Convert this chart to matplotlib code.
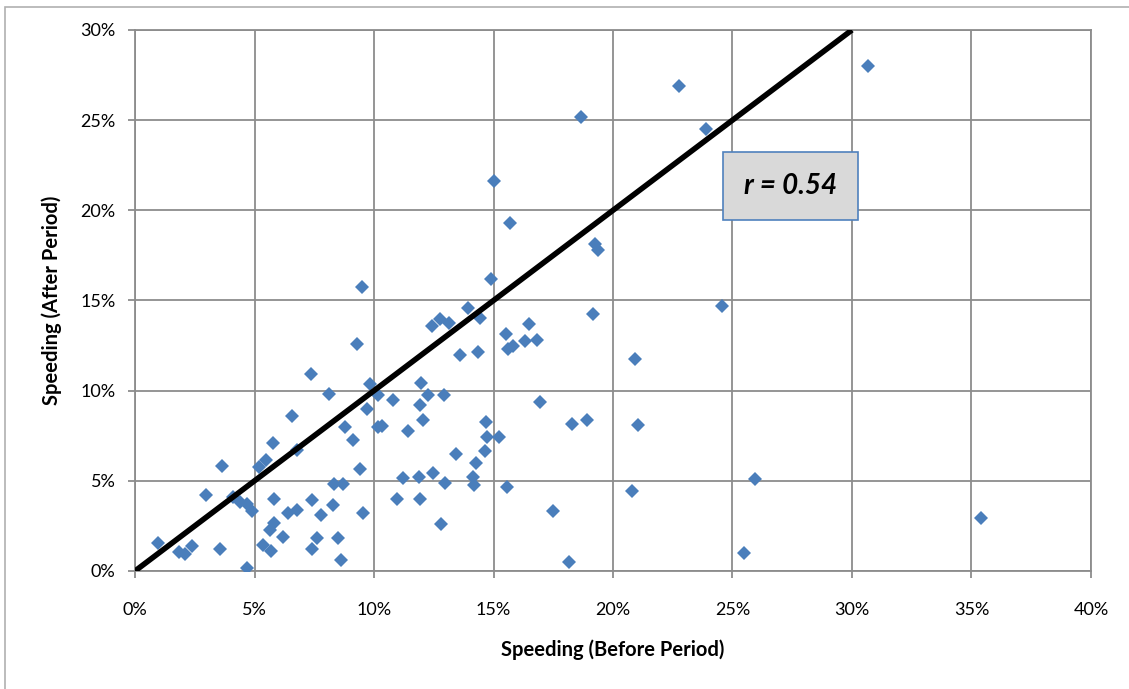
import matplotlib.pyplot as plt
from matplotlib.patches import Rectangle
from matplotlib.ticker import FuncFormatter

# speeding share before / after (percent)
before = [0.98, 1.85, 2.09, 2.4, 3.56, 4.7, 2.98, 3.65, 4.1, 4.4, 4.7, 4.9,
          5.2, 5.5, 5.79, 6.58, 6.76, 8.13, 5.82, 5.34, 5.68, 5.65, 5.82, 6.21,
          6.42, 6.76, 7.39, 7.78, 7.6, 7.42, 8.3, 8.5, 8.62, 8.33, 8.72, 9.41,
          9.53, 8.79, 9.11, 9.69, 9.83, 10.18, 11.95, 10.18, 10.81, 12.27, 12.93,
          11.92, 12.06, 10.35, 11.41, 16.95, 18.27, 18.9, 14.69, 14.74, 15.24,
          14.64, 13.43, 14.27, 11.23, 11.9, 12.45, 12.97, 14.13, 14.18, 15.58,
          10.97, 11.92, 12.79, 17.5, 18.16, 21.06, 20.78, 25.94, 25.48, 35.42,
          15.69, 9.48, 14.88, 9.3, 7.35, 13.95, 14.44, 12.44, 12.76, 13.15,
          15.52, 15.83, 15.62, 16.5, 16.32, 16.83, 13.6, 14.36, 19.25, 19.39,
          19.15, 20.92, 18.66, 22.76, 23.88, 30.68, 24.55, 15.02]
after = [1.53, 1.07, 0.92, 1.4, 1.2, 0.18, 4.22, 5.81, 4.1, 3.8, 3.7, 3.3,
         5.74, 6.14, 7.07, 8.6, 6.7, 9.83, 3.97, 1.44, 1.12, 2.27, 2.67, 1.86,
         3.23, 3.38, 3.93, 3.1, 1.81, 1.2, 3.65, 1.81, 0.6, 4.85, 4.85, 5.63,
         3.23, 7.99, 7.29, 9.0, 10.35, 7.99, 10.42, 9.74, 9.46, 9.74, 9.74,
         9.19, 8.39, 8.02, 7.77, 9.37, 8.17, 8.39, 8.26, 7.43, 7.43,
         6.66, 6.47, 5.96, 5.13, 5.19, 5.46, 4.89, 5.19, 4.74, 4.67,
         3.98, 3.98, 2.6, 3.34, 0.51, 8.12, 4.43, 5.11, 1.01, 2.95,
         19.3, 15.74, 16.2, 12.6, 10.94, 14.57, 14.04, 13.56, 13.98, 13.74,
         13.12, 12.5, 12.29, 13.71, 12.78, 12.82, 11.99, 12.14, 18.13, 17.8,
         14.26, 11.73, 25.18, 26.9, 24.5, 28.0, 14.72, 21.64]
ref_line = [0, 30]
r_label = "r = 0.54"

plt.rcParams['font.family'] = ['Lato', 'DejaVu Sans']

fig = plt.figure(figsize=(11.29, 6.89), dpi=100)
ax = fig.add_axes([0.1196, 0.1713, 0.8467, 0.7852])

# outer chart border
fig.patches.append(Rectangle((0.0045, -0.05), 1.2, 1.04, transform=fig.transFigure,
                             fill=False, edgecolor='#b0b0b0', linewidth=1.2))

ax.plot(before, after, linestyle='None', marker='D', markersize=7,
        color='#4a7ebb', markeredgewidth=0, zorder=3)
ax.plot(ref_line, ref_line, color='black', linewidth=4, solid_capstyle='butt', zorder=4)

ax.set_xlim(0, 40)
ax.set_ylim(0, 30)
ax.set_xticks(range(0, 41, 5))
ax.set_yticks(range(0, 31, 5))
pct = FuncFormatter(lambda v, p: '%d%%' % v)
ax.xaxis.set_major_formatter(pct)
ax.yaxis.set_major_formatter(pct)
ax.grid(True, color='#8c8c8c', linewidth=1.3, zorder=0)
ax.set_axisbelow(True)
for s in ax.spines.values():
    s.set_color('#8c8c8c')
    s.set_linewidth(1.3)
ax.tick_params(length=5, width=1.3, color='#8c8c8c', labelsize=13)
ax.tick_params(axis='y', pad=9)
ax.tick_params(axis='x', pad=17)

ax.set_xlabel('Speeding (Before Period)', fontsize=14.5, fontweight='bold', labelpad=16)
ax.set_ylabel('Speeding (After Period)', fontsize=14.5, fontweight='bold', labelpad=13)

ax.text(0.686, 0.712, r_label, transform=ax.transAxes, ha='center', va='center',
        fontsize=20, fontweight='bold', fontstyle='italic', zorder=5,
        bbox=dict(boxstyle='square,pad=0.75', facecolor='#d9d9d9', edgecolor='#4f81bd',
                  linewidth=1.2))

fig.savefig('out.png', dpi=100)
